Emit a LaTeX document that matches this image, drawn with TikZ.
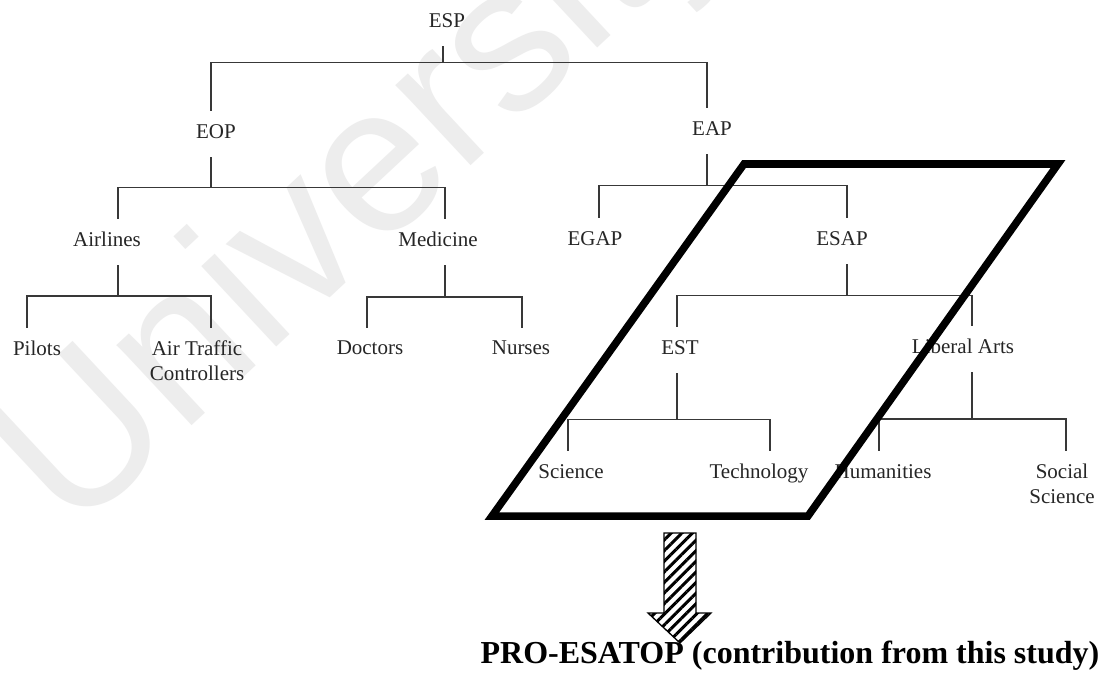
\documentclass[tikz,border=0pt]{standalone}
\usepackage{fontspec}
\setmainfont{Liberation Serif}
\newfontfamily\wmfont{Liberation Sans}
\usetikzlibrary{patterns.meta}

\tikzset{
  lbl/.style={font=\fontsize{21}{25}\selectfont, text=black!85, align=center,
    inner xsep=1pt, inner ysep=14pt, text depth=5pt, anchor=north},
  tree/.style={draw=black!78, line width=1.5pt, line cap=rect},
  frame/.style={draw=black, line width=7.5pt, line join=miter},
  bigarrow/.style={draw=black, line width=1.3pt, line join=miter,
    pattern={Lines[angle=45, distance=7.5pt, line width=3pt]}, pattern color=black},
  watermark/.style={font=\wmfont\fontsize{208}{240}\selectfont, text=black!7,
    inner sep=0pt, anchor=base west, rotate=43},
  title/.style={font=\bfseries\fontsize{32}{38}\selectfont, inner sep=0pt, anchor=base}
}

\begin{document}
\begin{tikzpicture}[x=1pt, y=-1pt]
\useasboundingbox (0,0) rectangle (1111,674);
\fill[white] (0,0) rectangle (1111,674);

% faint background stamp
\node[watermark] (stamp) at (72,538) {University};

% labels of the classification tree
\node[lbl] (esp)  at (447,-1)  {ESP};
\node[lbl] (eop)  at (216,110) {EOP};
\node[lbl] (eap)  at (712,107) {EAP};
\node[lbl] (air)  at (107,218) {Airlines};
\node[lbl] (med)  at (438,218) {Medicine};
\node[lbl] (egap) at (595,217) {EGAP};
\node[lbl] (esap) at (842,217) {ESAP};
\node[lbl] (pil)  at (37,327)  {Pilots};
\node[lbl] (atc)  at (197,327) {Air Traffic\\Controllers};
\node[lbl] (doc)  at (370,327) {Doctors};
\node[lbl] (nur)  at (521,327) {Nurses};
\node[lbl] (est)  at (680,326) {EST};
\node[lbl] (lib)  at (963,325) {Liberal Arts};
\node[lbl] (sci)  at (571,450) {Science};
\node[lbl] (tec)  at (759,450) {Technology};
\node[lbl] (hum)  at (883,450) {Humanities};
\node[lbl] (soc)  at (1062,450) {Social\\Science};

% branches: stem down from the parent, bus across, drops to the children
\draw[tree] ([xshift=-4pt]esp.south) -- ++(0,16) coordinate (b-esp) -| ([xshift=-5pt]eop.north);
\draw[tree] (b-esp) -| ([xshift=-5pt]eap.north);

\draw[tree] ([xshift=-5pt]eop.south) -- ++(0,30) coordinate (b-eop) -| ([xshift=11pt]air.north);
\draw[tree] (b-eop) -| ([xshift=7pt]med.north);

\draw[tree] ([xshift=11pt]air.south) -- ++(0,30) coordinate (b-air) -| ([xshift=-10pt]pil.north);
\draw[tree] (b-air) -| ([xshift=14pt]atc.north);

\draw[tree] ([xshift=7pt]med.south) -- ++(0,31) coordinate (b-med) -| ([xshift=-3pt]doc.north);
\draw[tree] (b-med) -| ([xshift=1pt]nur.north);

\draw[tree] ([xshift=-5pt]eap.south) -- ++(0,31) coordinate (b-eap) -| ([xshift=4pt]egap.north);
\draw[tree] (b-eap) -| ([xshift=5pt]esap.north);

\draw[tree] ([xshift=5pt]esap.south) -- ++(0,31) coordinate (b-esap) -| ([xshift=-3pt]est.north);
\draw[tree] (b-esap) -| ([xshift=9pt]lib.north);

\draw[tree] ([xshift=-3pt]est.south) -- ++(0,46) coordinate (b-est) -| ([xshift=-3pt]sci.north);
\draw[tree] (b-est) -| ([xshift=11pt]tec.north);

\draw[tree] ([xshift=9pt]lib.south) -- ++(0,46) coordinate (b-lib) -| ([xshift=-4pt]hum.north);
\draw[tree] (b-lib) -| ([xshift=4pt]soc.north);

% highlighted branch
\draw[frame] (744,164) -- (1058,164) -- (808,516) -- (492,516) -- cycle;

% hatched block arrow and the resulting programme
\draw[bigarrow] (664,533) -- (696,533) -- (696,613) -- (711,613) -- (680,643)
  -- (648,613) -- (664,613) -- cycle;
\node[title] (pro) at (790,663) {PRO-ESATOP (contribution from this study)};
\end{tikzpicture}
\end{document}
